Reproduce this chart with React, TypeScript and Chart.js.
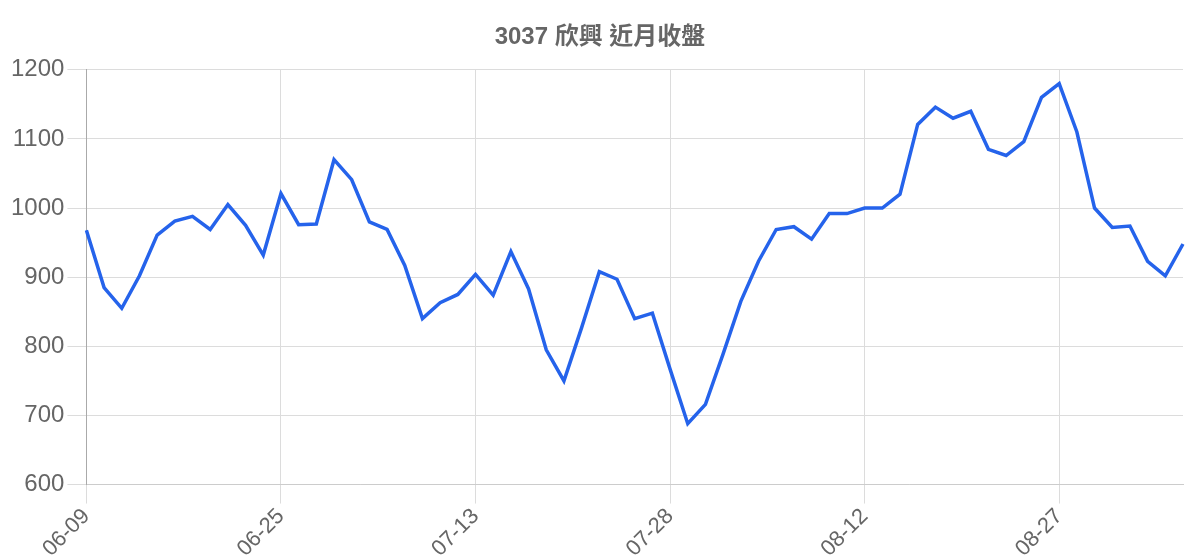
import { useEffect, useRef } from 'react'
import { Chart, registerables } from 'chart.js'

Chart.register(...registerables)

const TITLE = '3037 欣興 近月收盤'

// trading days shown on the x axis (MM-DD)
const dates = [
  '06-09', '06-10', '06-11', '06-12', '06-13', '06-16', '06-17', '06-18', '06-19', '06-20',
  '06-23', '06-25', '06-26', '06-27', '06-30', '07-01', '07-02', '07-03', '07-04', '07-07',
  '07-08', '07-09', '07-13', '07-14', '07-15', '07-16', '07-17', '07-18', '07-21', '07-22',
  '07-23', '07-24', '07-25', '07-28', '07-29', '07-30', '07-31', '08-01', '08-04', '08-05',
  '08-06', '08-07', '08-08', '08-11', '08-12', '08-13', '08-14', '08-15', '08-18', '08-19',
  '08-20', '08-21', '08-22', '08-25', '08-26', '08-27', '08-28', '08-29', '09-01', '09-02',
  '09-03', '09-04', '09-05',
]

// closing prices
const closes = [
  968, 885, 855, 902, 961, 981, 988, 969, 1005, 975,
  932, 1021, 976, 977, 1070, 1041, 980, 969, 917, 840,
  863, 875, 904, 874, 937, 883, 795, 750, 827, 908,
  897, 840, 848, 767, 688, 716, 789, 865, 923, 969,
  973, 955, 992, 992, 1000, 1000, 1020, 1121, 1146, 1130,
  1140, 1085, 1076, 1096, 1160, 1180, 1110, 1000, 972, 974,
  923, 902, 948,
]

const Y_MIN = 600
const Y_MAX = 1200
const Y_STEP = 100

const FONT = "'Liberation Sans', Arial, 'Noto Sans CJK TC', sans-serif"

function PriceChart() {
  const canvasRef = useRef<HTMLCanvasElement>(null)
  const chartRef = useRef<Chart | null>(null)

  useEffect(() => {
    if (!canvasRef.current) return
    if (chartRef.current) chartRef.current.destroy()

    chartRef.current = new Chart(canvasRef.current, {
      type: 'line',
      data: {
        labels: dates,
        datasets: [
          {
            label: '收盤',
            data: closes,
            borderColor: '#2563eb',
            backgroundColor: '#2563eb',
            borderWidth: 3.5,
            pointRadius: 0,
            tension: 0,
          },
        ],
      },
      options: {
        animation: false,
        responsive: true,
        maintainAspectRatio: false,
        plugins: {
          legend: { display: false },
          tooltip: { enabled: false },
          title: {
            display: true,
            text: TITLE,
            color: '#666',
            font: { family: FONT, size: 24, weight: 'bold' },
            padding: { top: 15, bottom: 18 },
          },
        },
        scales: {
          x: {
            grid: { color: '#dcdcdc', tickLength: 19 },
            border: { color: '#cccccc' },
            ticks: {
              color: '#666',
              font: { family: FONT, size: 22 },
              maxRotation: 45,
              minRotation: 45,
              maxTicksLimit: 6,
              padding: 0,
            },
            // keep a little room right of the plot without shifting the title
            afterFit: (scale) => {
              scale.paddingRight = 9
            },
          },
          y: {
            min: Y_MIN,
            max: Y_MAX,
            grid: { color: '#dcdcdc', tickLength: 19 },
            border: { color: '#aaaaaa' },
            ticks: {
              stepSize: Y_STEP,
              color: '#666',
              font: { family: FONT, size: 24 },
              padding: 3,
              callback: (v) => String(v),
            },
          },
        },
      },
    })

    return () => {
      if (chartRef.current) {
        chartRef.current.destroy()
        chartRef.current = null
      }
    }
  }, [])

  return (
    <div style={{ position: 'relative', width: 1184, height: 554 }}>
      <canvas ref={canvasRef} />
    </div>
  )
}

export default function App() {
  return <PriceChart />
}
